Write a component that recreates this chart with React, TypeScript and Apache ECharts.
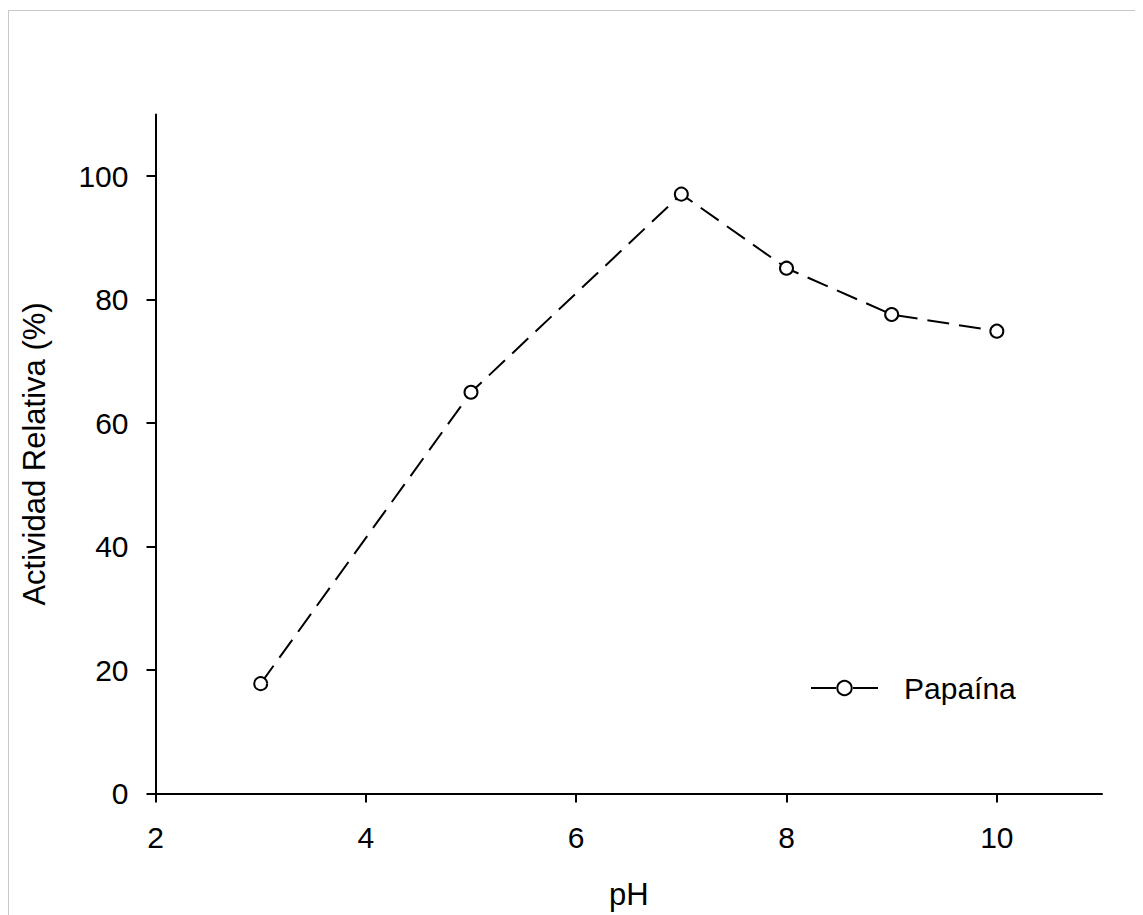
import React, { useEffect, useRef } from "react";
import * as echarts from "echarts";

const phValues = [3, 5, 7, 8, 9, 10];
const activity = [17.8, 65.0, 97.1, 85.1, 77.6, 74.9];
const xTicks = [2, 4, 6, 8, 10];
const yTicks = [0, 20, 40, 60, 80, 100];
const seriesName = "Papaína";

const FONT = "'Liberation Sans', Arial, sans-serif";

export default function App() {
  const ref = useRef<HTMLDivElement>(null);
  useEffect(() => {
    if (!ref.current) return;
    const chart = echarts.init(ref.current, undefined, { renderer: "svg" });
    const labelStyle = { color: "#000", fontSize: 30, fontFamily: FONT, lineHeight: 30 };
    chart.setOption({
      animation: false,
      backgroundColor: "#fff",
      grid: { left: 147.5, right: 41, top: 106.5, bottom: 120.5, containLabel: false },
      legend: {
        left: 802,
        top: 665,
        padding: 0,
        itemWidth: 67,
        itemHeight: 18,
        textStyle: { ...labelStyle, padding: [0, 0, 0, 21] },
        lineStyle: { type: [25, 17], width: 2, color: "#000" },
        data: [seriesName],
      },
      xAxis: {
        type: "value",
        min: 2,
        max: 11,
        name: "pH",
        nameLocation: "middle",
        nameGap: 86,
        nameTextStyle: { ...labelStyle, fontSize: 31, verticalAlign: "top" },
        axisLine: { show: true, onZero: false, lineStyle: { color: "#000", width: 2 } },
        axisTick: { show: true, inside: false, length: 9, lineStyle: { color: "#000", width: 2 }, customValues: xTicks },
        axisLabel: { ...labelStyle, margin: 29, customValues: xTicks },
        splitLine: { show: false },
      },
      yAxis: {
        type: "value",
        min: 0,
        max: 110,
        name: "Actividad Relativa (%)",
        nameLocation: "middle",
        nameGap: 106,
        nameRotate: 90,
        nameTextStyle: { ...labelStyle, fontSize: 31 },
        axisLine: { show: true, onZero: false, lineStyle: { color: "#000", width: 2 } },
        axisTick: { show: true, inside: false, length: 9, lineStyle: { color: "#000", width: 2 }, customValues: yTicks },
        axisLabel: { ...labelStyle, margin: 27, customValues: yTicks },
        splitLine: { show: false },
      },
      series: [
        {
          name: seriesName,
          type: "line",
          data: phValues.map((p, i) => [p, activity[i]]),
          symbol: "circle",
          symbolSize: 13,
          showSymbol: true,
          lineStyle: { color: "#000", width: 2, type: [22, 10] },
          itemStyle: { color: "#fff", borderColor: "#000", borderWidth: 2 },
          z: 3,
        },
      ],
    });
    return () => chart.dispose();
  }, []);

  return (
    <div style={{ position: "relative", width: 1135, height: 907 }}>
      <div ref={ref} style={{ position: "absolute", left: 0, top: 0, width: 1135, height: 907 }} />
      <div
        style={{
          position: "absolute",
          left: 0,
          top: 2,
          width: 1134,
          height: 904,
          borderTop: "1px solid #c8c8c8",
          borderLeft: "1px solid #c8c8c8",
          pointerEvents: "none",
        }}
      />
    </div>
  );
}
